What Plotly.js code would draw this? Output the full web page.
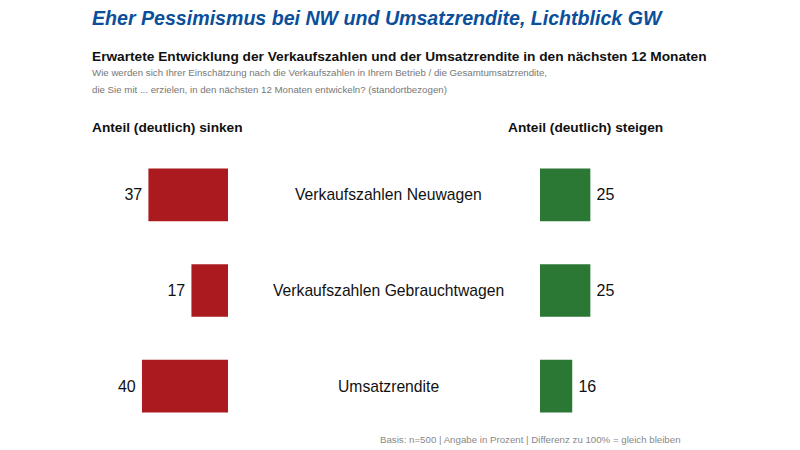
<!DOCTYPE html>
<html>
<head>
<meta charset="utf-8">
<script src="https://cdn.plot.ly/plotly-3.0.1.min.js"></script>
<style>html,body{margin:0;padding:0;background:#fff;}#chart{width:800px;height:450px;}</style>
</head>
<body>
<div id="chart"></div>
<script>
var categories = ["Verkaufszahlen Neuwagen", "Verkaufszahlen Gebrauchtwagen", "Umsatzrendite"];
var sinken = [37, 17, 40];
var steigen = [25, 25, 16];
var headerLeft = "Anteil (deutlich) sinken";
var headerRight = "Anteil (deutlich) steigen";
var titleText = "Eher Pessimismus bei NW und Umsatzrendite, Lichtblick GW";
var subtitleText = "Erwartete Entwicklung der Verkaufszahlen und der Umsatzrendite in den nächsten 12 Monaten";
var questionLine1 = "Wie werden sich Ihrer Einschätzung nach die Verkaufszahlen in Ihrem Betrieb / die Gesamtumsatzrendite,";
var questionLine2 = "die Sie mit ... erzielen, in den nächsten 12 Monaten entwickeln? (standortbezogen)";
var footerText = "Basis: n=500 | Angabe in Prozent | Differenz zu 100% = gleich bleiben";

var FONT = "Liberation Sans, Arial, Helvetica, sans-serif";
var RED = "#ab1a1e";
var GREEN = "#2b7734";

var traces = [
  {type: "bar", orientation: "h", x: sinken, y: categories, xaxis: "x", yaxis: "y",
   marker: {color: RED}, width: 0.55,
   text: sinken.map(function(v){ return v + "\u2009"; }), textposition: "outside", cliponaxis: false,
   textfont: {family: FONT, size: 16, color: "#111"}, hoverinfo: "none"},
  {type: "bar", orientation: "h", x: steigen, y: categories, xaxis: "x2", yaxis: "y",
   marker: {color: GREEN}, width: 0.55,
   text: steigen.map(function(v){ return "\u2009" + v; }), textposition: "outside", cliponaxis: false,
   textfont: {family: FONT, size: 16, color: "#111"}, hoverinfo: "none"}
];

var annotations = categories.map(function(c){
  return {xref: "paper", yref: "y", x: 0.485, y: c, text: c, showarrow: false,
          xanchor: "center", yanchor: "middle",
          font: {family: FONT, size: 15.7, color: "#111"}};
});

function txt(x, y, text, size, color) {
  return {xref: "paper", yref: "paper", x: x, y: y, text: text, showarrow: false,
          xanchor: "left", yanchor: "middle", font: {family: FONT, size: size, color: color}};
}
var H = 450, T = 146.5, B = 16, PH = H - T - B;
function py(pix) { return (H - B - pix) / PH; }

annotations.push(txt(0.112, py(17), "<b><i>" + titleText + "</i></b>", 19.6, "#0b4f9b"));
annotations.push(txt(0.112, py(56), "<b>" + subtitleText + "</b>", 13.7, "#111"));
annotations.push(txt(0.112, py(72), questionLine1, 9.7, "#777"));
annotations.push(txt(0.112, py(89), questionLine2, 9.7, "#777"));
annotations.push(txt(0.113, py(127), "<b>" + headerLeft + "</b>", 13.7, "#111"));
annotations.push(txt(0.633, py(127), "<b>" + headerRight + "</b>", 13.7, "#111"));
annotations.push(txt(0.473, py(440), footerText, 9.7, "#888"));

var layout = {
  width: 800, height: 450,
  margin: {l: 0, r: 0, t: T, b: B},
  paper_bgcolor: "#fff", plot_bgcolor: "#fff",
  showlegend: false,
  xaxis: {domain: [0.1, 0.285], range: [68.8, 0], visible: false, fixedrange: true},
  xaxis2: {domain: [0.675, 0.86], range: [0, 73.5], visible: false, fixedrange: true},
  yaxis: {type: "category", range: [2.5, -0.5], visible: false, fixedrange: true},
  annotations: annotations
};

Plotly.newPlot("chart", traces, layout, {displayModeBar: false, staticPlot: true});
</script>
</body>
</html>
